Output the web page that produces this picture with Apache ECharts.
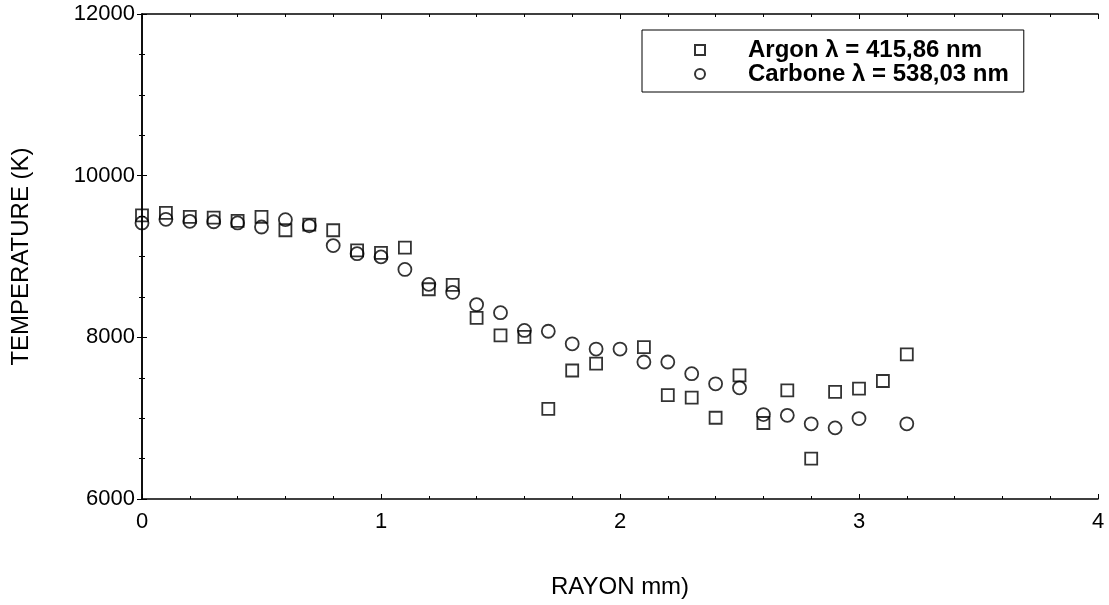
<!DOCTYPE html>
<html>
<head>
<meta charset="utf-8">
<script src="https://cdn.jsdelivr.net/npm/echarts@6/dist/echarts.min.js"></script>
<style>
  html, body { margin: 0; padding: 0; background: #fff; }
  #chart { width: 1109px; height: 605px; }
</style>
</head>
<body>
<div id="chart"></div>
<script>
// rayon (mm) for each measurement
var argonX = [0, 0.1, 0.2, 0.3, 0.4, 0.5, 0.6, 0.7, 0.8, 0.9, 1.0, 1.1, 1.2, 1.3, 1.4, 1.5, 1.6, 1.7, 1.8, 1.9,
              2.1, 2.2, 2.3, 2.4, 2.5, 2.6, 2.7, 2.8, 2.9, 3.0, 3.1, 3.2];
var argonT = [9510, 9540, 9490, 9480, 9440, 9490, 9325, 9395, 9325, 9075, 9045, 9110, 8595, 8650, 8240, 8025, 8005, 7115, 7590, 7675,
              7880, 7285, 7255, 7005, 7530, 6940, 7345, 6500, 7325, 7365, 7460, 7790];
var carboneX = [0, 0.1, 0.2, 0.3, 0.4, 0.5, 0.6, 0.7, 0.8, 0.9, 1.0, 1.1, 1.2, 1.3, 1.4, 1.5, 1.6, 1.7, 1.8, 1.9,
                2.0, 2.1, 2.2, 2.3, 2.4, 2.5, 2.6, 2.7, 2.8, 2.9, 3.0, 3.2];
var carboneT = [9415, 9460, 9435, 9430, 9415, 9365, 9455, 9380, 9135, 9035, 8995, 8840, 8655, 8555, 8405, 8305, 8085, 8075, 7920, 7855,
                7855, 7695, 7695, 7550, 7425, 7375, 7045, 7035, 6930, 6880, 6995, 6930];

var xTicks = [0, 4, 1];
var yTicks = [6000, 12000, 2000];

function pairs(xs, ys) {
    var out = [];
    for (var i = 0; i < xs.length; i++) out.push([xs[i], ys[i]]);
    return out;
}

var font = 'Liberation Sans, Arial, sans-serif';
var markStyle = { color: 'rgba(0,0,0,0)', borderColor: '#000', borderWidth: 1.8 };

function xAxisDef(pos, show) {
    return {
        type: 'value', position: pos, min: xTicks[0], max: xTicks[1], interval: xTicks[2],
        name: show ? 'RAYON mm)' : '', nameLocation: 'middle', nameGap: 76,
        nameTextStyle: { color: '#000', fontSize: 24, fontFamily: font },
        axisLine: { show: true, lineStyle: { color: '#000', width: 1.5 } },
        axisTick: { show: true, inside: true, length: 5, lineStyle: { color: '#000' } },
        minorTick: { show: true, splitNumber: 5, length: 3, lineStyle: { color: '#000' } },
        axisLabel: { show: show, color: '#000', fontSize: 22, fontFamily: font, margin: 12 },
        splitLine: { show: false }
    };
}
function yAxisDef(pos, show) {
    return {
        type: 'value', position: pos, min: yTicks[0], max: yTicks[1], interval: yTicks[2],
        name: show ? 'TEMPERATURE (K)' : '', nameLocation: 'middle', nameGap: 109, nameRotate: 90,
        nameTextStyle: { color: '#000', fontSize: 24, fontFamily: font },
        axisLine: { show: true, lineStyle: { color: '#000', width: 1.5 } },
        axisTick: { show: true, inside: true, length: 5, lineStyle: { color: '#000' } },
        minorTick: { show: true, splitNumber: 4, length: 3, lineStyle: { color: '#000' } },
        axisLabel: { show: show, color: '#000', fontSize: 22, fontFamily: font, margin: 7,
                     formatter: function (v) { return String(v); } },
        splitLine: { show: false }
    };
}

var chart = echarts.init(document.getElementById('chart'));
chart.setOption({
    animation: false,
    backgroundColor: '#fff',
    grid: { left: 142, right: 11, top: 14, bottom: 106 },
    xAxis: [xAxisDef('bottom', true), xAxisDef('top', false)],
    yAxis: [yAxisDef('left', true), yAxisDef('right', false)],
    legend: {
        orient: 'vertical', left: 642, top: 30,
        padding: [8, 15, 6, 52],
        borderColor: '#000', borderWidth: 1,
        itemWidth: 10, itemHeight: 10, itemGap: 0,
        textStyle: { color: '#000', fontSize: 24, fontWeight: 'bold', fontFamily: font, padding: [0, 0, 0, 38] },
        data: [
            { name: 'Argon \u03bb = 415,86 nm', icon: 'rect' },
            { name: 'Carbone \u03bb = 538,03 nm', icon: 'circle' }
        ]
    },
    series: [
        {
            name: 'Argon \u03bb = 415,86 nm', type: 'scatter', symbol: 'rect', symbolSize: 12,
            itemStyle: markStyle, data: pairs(argonX, argonT)
        },
        {
            name: 'Carbone \u03bb = 538,03 nm', type: 'scatter', symbol: 'circle', symbolSize: 13,
            itemStyle: markStyle, data: pairs(carboneX, carboneT)
        }
    ]
});
</script>
</body>
</html>
